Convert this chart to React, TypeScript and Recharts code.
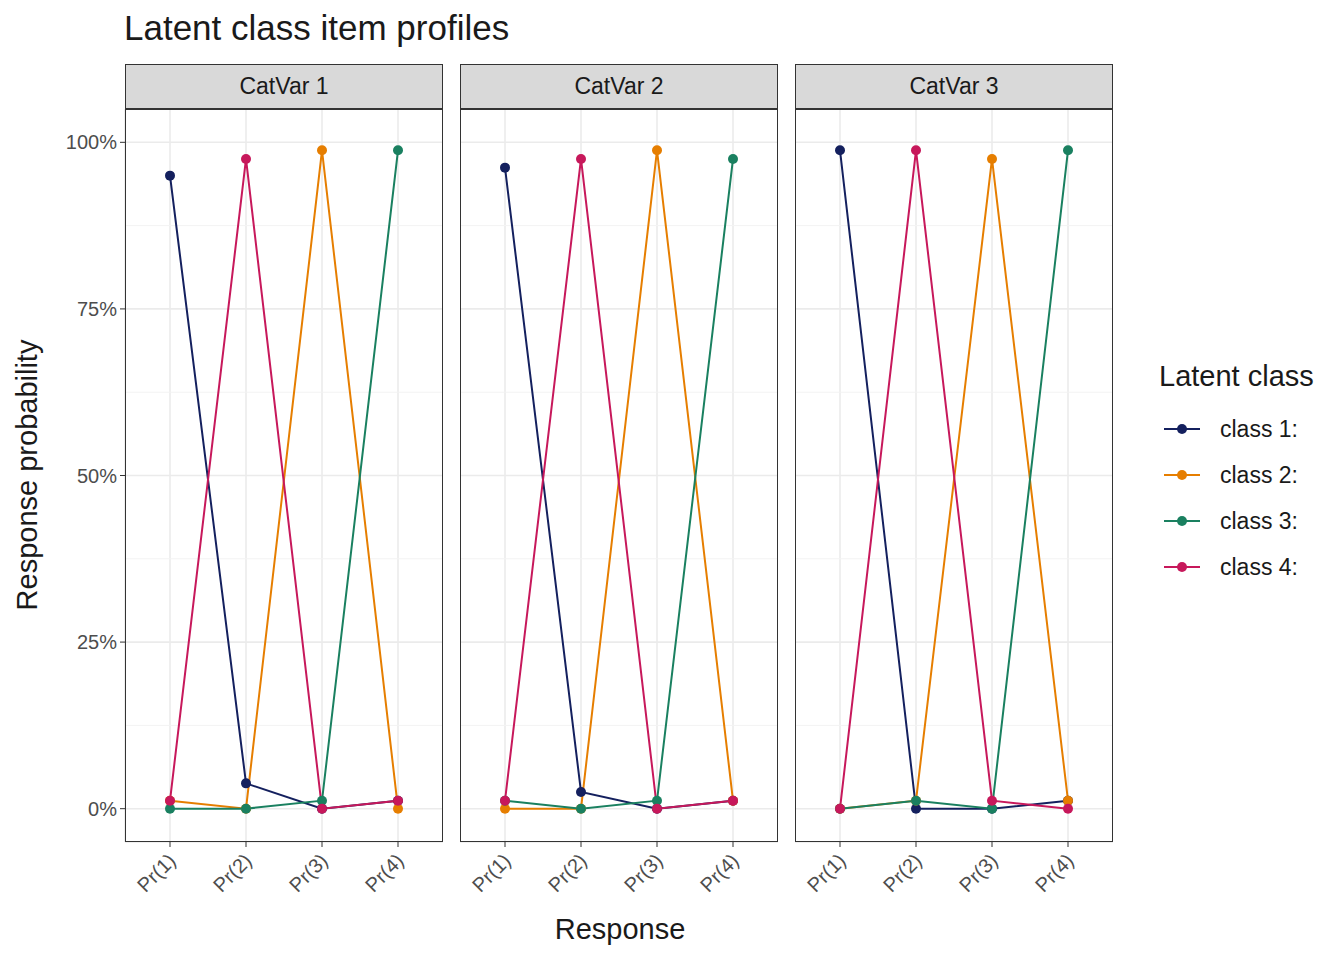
import React from "react";
import { LineChart, Line, XAxis, YAxis, CartesianGrid, ReferenceLine } from "recharts";

const categories = ["Pr(1)", "Pr(2)", "Pr(3)", "Pr(4)"];
const panels = ["CatVar 1", "CatVar 2", "CatVar 3"];
const classNames = ["class 1:", "class 2:", "class 3:", "class 4:"];
const classColors = ["#14205e", "#e67e00", "#1a8060", "#c7185b"];
const yTicks = [0, 25, 50, 75, 100];
const minorTicks = [12.5, 37.5, 62.5, 87.5];

// values per panel, per class (percent)
const catVar1 = [
  [95, 3.8, 0, 1.2],
  [1.2, 0, 98.8, 0],
  [0, 0, 1.2, 98.8],
  [1.2, 97.5, 0, 1.2],
];
const catVar2 = [
  [96.2, 2.5, 0, 1.2],
  [0, 0, 98.8, 1.2],
  [1.2, 0, 1.2, 97.5],
  [1.2, 97.5, 0, 1.2],
];
const catVar3 = [
  [98.8, 0, 0, 1.2],
  [0, 1.2, 97.5, 1.2],
  [0, 1.2, 0, 98.8],
  [0, 98.8, 1.2, 0],
];
const panelData = [catVar1, catVar2, catVar3];

const FONT = "Liberation Sans, Arial, sans-serif";
const PLOT_TOP = 109;
const PLOT_H = 733;
const PANEL_W = 318;
const panelLeft = [125, 460, 795];

function XTick(props: any) {
  const { x, y, payload } = props;
  return (
    <g>
      <line x1={x} x2={x} y1={y - 8} y2={y - 3} stroke="#333" strokeWidth={1} />
      <text
        x={x + 7}
        y={y + 12}
        textAnchor="end"
        fontSize={20}
        fill="#4d4d4d"
        fontFamily={FONT}
        transform={`rotate(-45 ${x + 7} ${y + 12})`}
      >
        {payload.value}
      </text>
    </g>
  );
}

function Panel({ idx }: { idx: number }) {
  const rows = categories.map((c, i) => {
    const r: any = { cat: c };
    panelData[idx].forEach((vals, k) => (r["c" + k] = vals[i]));
    return r;
  });
  const first = idx === 0;
  const yW = first ? 125 : 0;
  return (
    <div style={{ position: "absolute", left: panelLeft[idx] - yW, top: PLOT_TOP }}>
      <LineChart
        width={PANEL_W + yW}
        height={PLOT_H + 100}
        data={rows}
        margin={{ top: 0, right: 0, bottom: 0, left: 0 }}
      >
        <CartesianGrid stroke="#ebebeb" strokeWidth={1.6} />
        {minorTicks.map((t) => (
          <ReferenceLine key={t} y={t} stroke="#f3f3f3" strokeWidth={1} />
        ))}
        <XAxis
          dataKey="cat"
          padding={{ left: 45, right: 45 }}
          axisLine={false}
          tickLine={false}
          tick={<XTick />}
          height={100}
          interval={0}
        />
        <YAxis
          domain={[-5, 105]}
          ticks={yTicks}
          hide={!first}
          width={yW}
          axisLine={false}
          tickSize={5}
          tickMargin={3}
          tickLine={{ stroke: "#333" }}
          tick={{ fontSize: 20, fill: "#4d4d4d", fontFamily: FONT }}
          tickFormatter={(v) => `${v}%`}
        />
        {classNames.map((n, k) => (
          <Line
            key={n}
            dataKey={"c" + k}
            stroke={classColors[k]}
            strokeWidth={2}
            dot={{ r: 5, fill: classColors[k], stroke: "none" }}
            isAnimationActive={false}
          />
        ))}
      </LineChart>
    </div>
  );
}

export default function App() {
  return (
    <div
      style={{
        position: "absolute",
        left: 0,
        top: 0,
        width: 1344,
        height: 960,
        background: "#fff",
        fontFamily: FONT,
        color: "#1a1a1a",
      }}
    >
      <div style={{ position: "absolute", left: 124, top: 8, fontSize: 35, lineHeight: "40px" }}>
        Latent class item profiles
      </div>
      {panels.map((p, i) => (
        <React.Fragment key={p}>
          <div
            style={{
              position: "absolute",
              left: panelLeft[i],
              top: 64,
              width: PANEL_W - 2,
              height: 43,
              background: "#d9d9d9",
              border: "1px solid #333",
              fontSize: 23,
              display: "flex",
              alignItems: "center",
              justifyContent: "center",
            }}
          >
            {p}
          </div>
          <Panel idx={i} />
          <div
            style={{
              position: "absolute",
              left: panelLeft[i],
              top: PLOT_TOP,
              width: PANEL_W - 2,
              height: PLOT_H - 2,
              border: "1px solid #333",
              pointerEvents: "none",
            }}
          />
        </React.Fragment>
      ))}
      <div
        style={{
          position: "absolute",
          left: 27,
          top: 475,
          transform: "translate(-50%, -50%) rotate(-90deg)",
          fontSize: 29,
          whiteSpace: "nowrap",
        }}
      >
        Response probability
      </div>
      <div
        style={{
          position: "absolute",
          left: 620,
          top: 929,
          transform: "translate(-50%, -50%)",
          fontSize: 29,
        }}
      >
        Response
      </div>
      <div style={{ position: "absolute", left: 1159, top: 360, fontSize: 29 }}>Latent class</div>
      {classNames.map((n, k) => (
        <div
          key={n}
          style={{
            position: "absolute",
            left: 1162,
            top: 429 + k * 46 - 14,
            height: 28,
            display: "flex",
            alignItems: "center",
            fontSize: 23,
          }}
        >
          <svg width={40} height={28}>
            <line x1={2} x2={38} y1={14} y2={14} stroke={classColors[k]} strokeWidth={2} />
            <circle cx={20} cy={14} r={5} fill={classColors[k]} />
          </svg>
          <span style={{ marginLeft: 18 }}>{n}</span>
        </div>
      ))}
    </div>
  );
}
